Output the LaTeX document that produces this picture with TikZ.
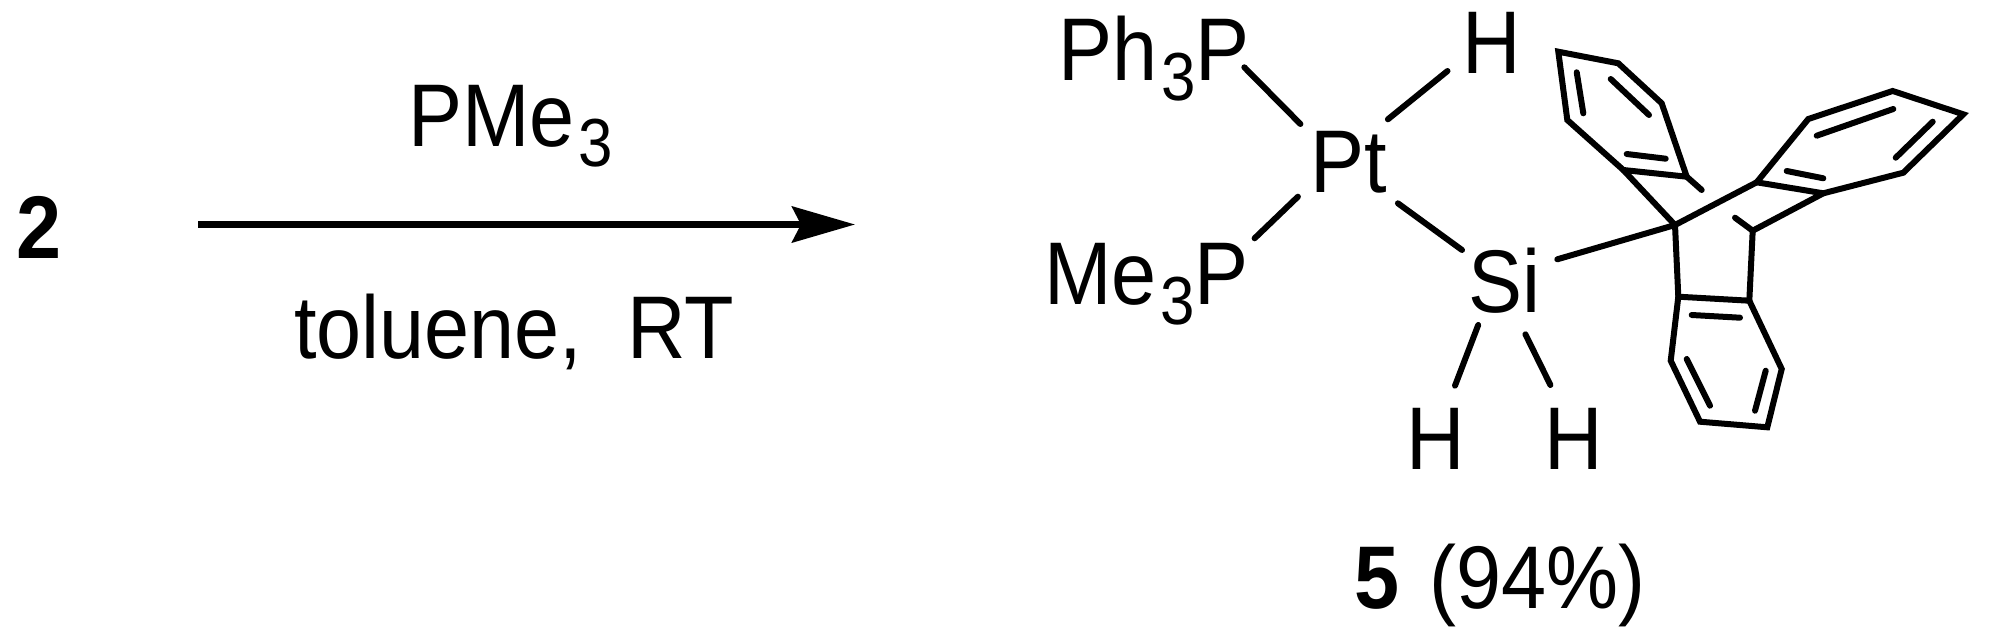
\documentclass[tikz,border=0pt]{standalone}
\usepackage{fontspec}
\setmainfont[FakeStretch=0.91]{Liberation Sans}
\usetikzlibrary{arrows.meta}
\newcommand{\subthree}{\kern2pt\raisebox{-10pt}{\fontsize{34pt}{34pt}\selectfont 3}}
\tikzset{
  x=0.5pt,y=-0.5pt,
  lbl/.style={inner sep=0pt,outer sep=0pt,anchor=base west,font=\fontsize{44.5pt}{44.5pt}\selectfont},
  bond/.style={line width=3pt,line cap=round,line join=miter,miter limit=10},
  rxn/.style={line width=3.3pt,-{Stealth[length=31.5pt,width=18pt,inset=4.5pt]}}
}
\begin{document}
\begin{tikzpicture}
\useasboundingbox (0,0) rectangle (2002,642);
% labels
\node[lbl] (two) at (17,258) {\bfseries 2};
\node[lbl] (pme) at (408,147) {PMe\subthree};
\node[lbl] (tol) at (294,358) {toluene,\ \ RT};
\node[lbl] (php) at (1058,81) {Ph\subthree P};
\node[lbl] (mep) at (1044,304) {Me\subthree P};
\node[lbl] (pt) at (1310,192) {Pt};
\node[lbl] (ht) at (1462,74) {H};
\node[lbl] (si) at (1468,312) {Si};
\node[lbl] (ha) at (1406,469) {H};
\node[lbl] (hb) at (1544,469) {H};
\node[lbl] (cmpd) at (1354,608) {\textbf{5}\kern4pt{} (94\%)};
% arrow
\coordinate (arA) at (198,224.5);
\coordinate (arB) at (855,224.5);
\draw[rxn] (arA) -- (arB);
% metal-centred bonds
\coordinate (b1a) at (1244.3,67.3); \coordinate (b1b) at (1300.4,124);
\coordinate (b2a) at (1447.5,71); \coordinate (b2b) at (1387.9,119.3);
\coordinate (b3a) at (1297.9,196.7); \coordinate (b3b) at (1254.6,238.3);
\coordinate (b4a) at (1397.9,203.3); \coordinate (b4b) at (1462,250);
\coordinate (b5a) at (1478.2,325); \coordinate (b5b) at (1455,385.7);
\coordinate (b6a) at (1525.4,334.3); \coordinate (b6b) at (1550.4,385);
\coordinate (b7a) at (1557.3,259.3);
\draw[bond] (b1a) -- (b1b);
\draw[bond] (b2a) -- (b2b);
\draw[bond] (b3a) -- (b3b);
\draw[bond] (b4a) -- (b4b);
\draw[bond] (b5a) -- (b5b);
\draw[bond] (b6a) -- (b6b);
% skeleton
\coordinate (c1) at (1675,225);
\coordinate (c2) at (1752.7,230.7);
\draw[bond] (b7a) -- (c1);
% ring A
\coordinate (a1) at (1558.3,51.7);
\coordinate (a2) at (1618.3,63.3);
\coordinate (a3) at (1661.7,103.3);
\coordinate (a4) at (1686.7,176.7);
\coordinate (a5) at (1623.3,170);
\coordinate (a6) at (1567.3,120);
\coordinate (as) at (1701.7,190);
\draw[bond] (a1) -- (a2) -- (a3) -- (a4) -- (a5) -- (a6) -- cycle;
\draw[bond] (a4) -- (as);
\draw[bond] (a5) -- (c1);
\coordinate (ai1) at (1576.7,72.3); \coordinate (ai2) at (1583.3,113.3);
\coordinate (ai3) at (1610.7,79); \coordinate (ai4) at (1649,115);
\coordinate (ai5) at (1626.7,154); \coordinate (ai6) at (1665.7,158.7);
\draw[bond] (ai1) -- (ai2);
\draw[bond] (ai3) -- (ai4);
\draw[bond] (ai5) -- (ai6);
% ring B
\coordinate (d1) at (1756.7,182.3);
\coordinate (d2) at (1808.3,119);
\coordinate (d3) at (1892.7,91);
\coordinate (d4) at (1963.3,114.3);
\coordinate (d5) at (1903.3,172.7);
\coordinate (d6) at (1823.3,193.3);
\coordinate (ds) at (1735,217.7);
\draw[bond] (d1) -- (d2) -- (d3) -- (d4) -- (d5) -- (d6) -- cycle;
\draw[bond] (c1) -- (d1);
\draw[bond] (d6) -- (c2);
\draw[bond] (ds) -- (c2);
\coordinate (di1) at (1816.7,135.7); \coordinate (di2) at (1893.3,109);
\coordinate (di3) at (1895.7,157.7); \coordinate (di4) at (1932.7,121.7);
\coordinate (di5) at (1786.7,171); \coordinate (di6) at (1823.3,178.3);
\draw[bond] (di1) -- (di2);
\draw[bond] (di3) -- (di4);
\draw[bond] (di5) -- (di6);
% ring C
\coordinate (e1) at (1678.3,296.7);
\coordinate (e2) at (1749.3,300.7);
\coordinate (e3) at (1781.7,369);
\coordinate (e4) at (1767.3,427.3);
\coordinate (e5) at (1700,421.7);
\coordinate (e6) at (1670.7,360.7);
\draw[bond] (e1) -- (e2) -- (e3) -- (e4) -- (e5) -- (e6) -- cycle;
\draw[bond] (c1) -- (e1);
\draw[bond] (c2) -- (e2);
\coordinate (ei1) at (1691.7,315); \coordinate (ei2) at (1740,317.7);
\coordinate (ei3) at (1686.7,359); \coordinate (ei4) at (1710,405.7);
\coordinate (ei5) at (1765.7,370.7); \coordinate (ei6) at (1755,410.7);
\draw[bond] (ei1) -- (ei2);
\draw[bond] (ei3) -- (ei4);
\draw[bond] (ei5) -- (ei6);
\end{tikzpicture}
\end{document}
